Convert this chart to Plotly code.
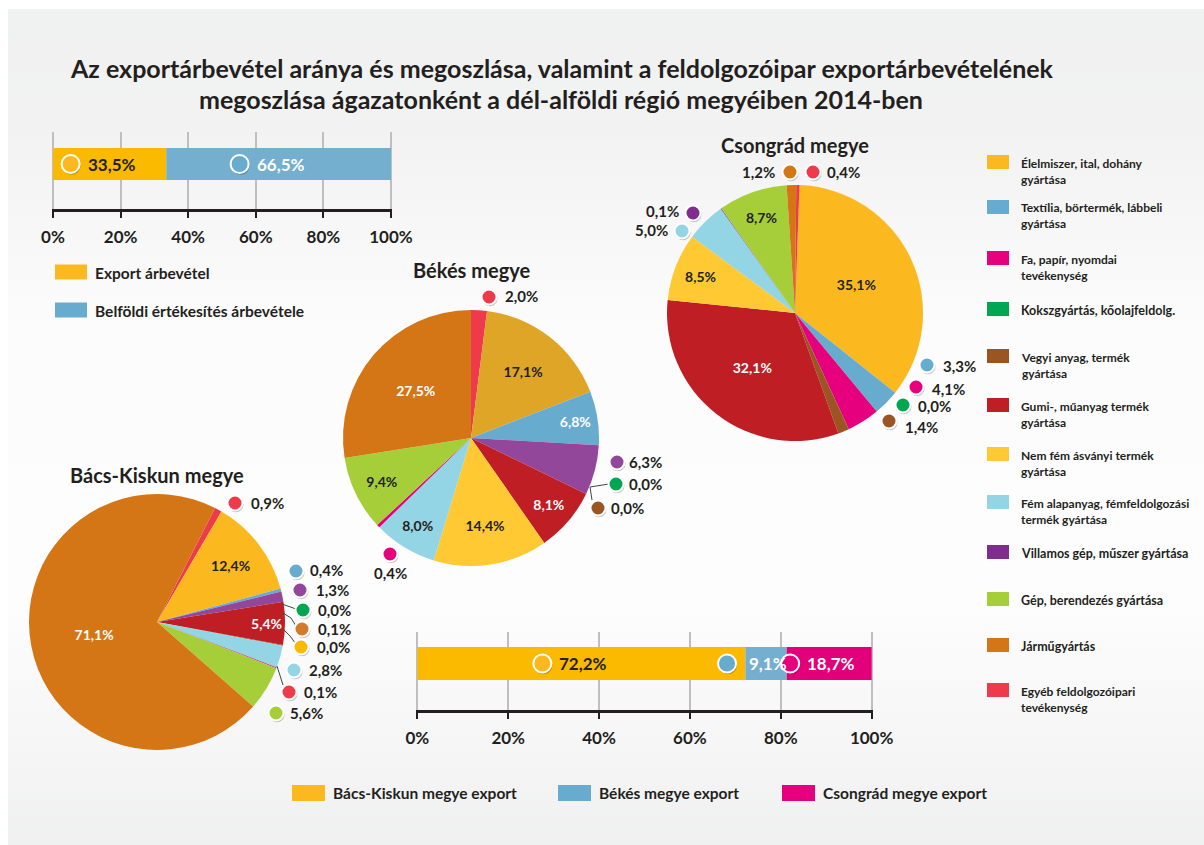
import plotly.graph_objects as go

W, H = 1204, 845
FONT = "Lato"
DARK = "#231f20"

# ---------------- data ----------------
sectors = [
    "Élelmiszer, ital, dohány gyártása",
    "Textília, börtermék, lábbeli gyártása",
    "Fa, papír, nyomdai tevékenység",
    "Kokszgyártás, kőolajfeldolg.",
    "Vegyi anyag, termék gyártása",
    "Gumi-, műanyag termék gyártása",
    "Nem fém ásványi termék gyártása",
    "Fém alapanyag, fémfeldolgozási termék gyártása",
    "Villamos gép, műszer gyártása",
    "Gép, berendezés gyártása",
    "Járműgyártás",
    "Egyéb feldolgozóipari tevékenység",
]
sector_legend_lines = [
    ["Élelmiszer, ital, dohány", "gyártása"],
    ["Textília, börtermék, lábbeli", "gyártása"],
    ["Fa, papír, nyomdai", "tevékenység"],
    ["Kokszgyártás, kőolajfeldolg."],
    ["Vegyi anyag, termék", "gyártása"],
    ["Gumi-, műanyag termék", "gyártása"],
    ["Nem fém ásványi termék", "gyártása"],
    ["Fém alapanyag, fémfeldolgozási", "termék gyártása"],
    ["Villamos gép, műszer gyártása"],
    ["Gép, berendezés gyártása"],
    ["Járműgyártás"],
    ["Egyéb feldolgozóipari", "tevékenység"],
]
bacs_kiskun = [12.4, 0.4, 0.1, 0.0, 0.1, 5.4, 0.0, 2.8, 1.3, 5.6, 71.1, 0.9]
bekes = [17.1, 6.8, 0.4, 0.0, 0.0, 8.1, 14.4, 8.0, 6.3, 9.4, 27.5, 2.0]
csongrad = [35.1, 3.3, 4.1, 0.0, 1.4, 32.1, 8.5, 5.0, 0.1, 8.7, 1.2, 0.4]

export_split_labels = ["Export árbevétel", "Belföldi értékesítés árbevétele"]
export_split_values = [33.5, 66.5]

county_export_labels = ["Bács-Kiskun megye export", "Békés megye export", "Csongrád megye export"]
county_export_values = [72.2, 9.1, 18.7]

axis_ticks = [0, 20, 40, 60, 80, 100]

title_lines = [
    "Az exportárbevétel aránya és megoszlása, valamint a feldolgozóipar exportárbevételének",
    "megoszlása ágazatonként a dél-alföldi régió megyéiben 2014-ben",
]

# ---------------- styles ----------------
sector_colors = ["#FBB91F", "#67ABCE", "#E6007E", "#00A651", "#9B5523", "#BE1E24",
                 "#FFC933", "#93D5E5", "#7E2D8E", "#A6CE39", "#D47516", "#EE3A4B"]
pie_purple = "#92479A"
split_colors = ["#FBBA00", "#74AFCF"]
split_dot_colors = ["#FBB91F", "#67ABCE"]
county_colors = ["#FBBA00", "#74AFCF", "#E2007A"]
county_dot_colors = ["#FBB91F", "#67ABCE", "#E6007E"]
white_text_sectors = {1, 5, 10}


def fmt(v):
    return f"{v:.1f}".replace(".", ",") + "%"


def px(x):
    return x / W


def py(y):
    return 1 - y / H


shapes = []
annotations = []


def add_dot(x, y, color, r=7.5, xref="paper", yref="paper", dx=0):
    shapes.append(dict(type="circle", xref=xref, yref=yref, xsizemode="pixel", ysizemode="pixel",
                       xanchor=x, yanchor=y, x0=dx - r + 1.0, x1=dx + r + 1.0, y0=-r - 1.8, y1=r - 1.8,
                       fillcolor="rgba(0,0,0,0.22)", line=dict(width=0), layer="above"))
    shapes.append(dict(type="circle", xref=xref, yref=yref, xsizemode="pixel", ysizemode="pixel",
                       xanchor=x, yanchor=y, x0=dx - r, x1=dx + r, y0=-r, y1=r,
                       fillcolor=color, line=dict(color="white", width=2), layer="above"))


def add_text(x, y, text, size=14, anchor="left", color=DARK, yanchor="middle"):
    annotations.append(dict(x=px(x), y=py(y), xref="paper", yref="paper", text=text, showarrow=False,
                            xanchor=anchor, yanchor=yanchor, align=anchor if anchor != "center" else "center",
                            font=dict(family=FONT, size=size, color=color, weight="bold")))


def add_rect(x0, y0, x1, y1, color, layer="above"):
    shapes.append(dict(type="rect", xref="paper", yref="paper", x0=px(x0), x1=px(x1),
                       y0=py(y1), y1=py(y0), fillcolor=color, line=dict(width=0), layer=layer))


def add_line(pts, color="#444", width=1):
    for (xa, ya), (xb, yb) in zip(pts[:-1], pts[1:]):
        shapes.append(dict(type="line", xref="paper", yref="paper", x0=px(xa), y0=py(ya),
                           x1=px(xb), y1=py(yb), line=dict(color=color, width=width), layer="above"))


# ---------------- background panel (vertical gradient) ----------------
stops = [(9, (240, 241, 241)), (130, (242, 242, 242)), (330, (252, 252, 252)),
         (600, (253, 253, 253)), (760, (245, 245, 245)), (845, (239, 240, 240))]


def bg_color(y):
    for (ya, ca), (yb, cb) in zip(stops[:-1], stops[1:]):
        if ya <= y <= yb:
            t = (y - ya) / (yb - ya)
            c = [round(a + (b - a) * t) for a, b in zip(ca, cb)]
            return f"rgb({c[0]},{c[1]},{c[2]})"
    return "rgb(240,241,241)"


y = 9
while y < H:
    y2 = min(y + 8, H)
    add_rect(8, y, W, y2 + 0.6, bg_color((y + y2) / 2), layer="below")
    y = y2

# ---------------- title ----------------
add_text(562, 68, title_lines[0], size=25, anchor="center")
add_text(561, 99, title_lines[1], size=25, anchor="center")

fig = go.Figure()

# ---------------- bars ----------------
cum = 0
for i, (lab, v) in enumerate(zip(export_split_labels, export_split_values)):
    fig.add_trace(go.Bar(x=[v], y=[0], base=cum, orientation="h", width=0.8, name=lab,
                         marker=dict(color=split_colors[i], line=dict(width=0)),
                         xaxis="x", yaxis="y", showlegend=False, hoverinfo="name+x"))
    mid = cum + v / 2
    annotations.append(dict(x=mid, y=0, xref="x", yref="y", text=fmt(v), showarrow=False,
                            xanchor="center", yanchor="middle", xshift=2,
                            font=dict(family=FONT, size=17, weight="bold",
                                      color=DARK if i == 0 else "white")))
    add_dot(mid, 0, split_dot_colors[i], r=9, xref="x", yref="y", dx=-39)
    cum += v

cum = 0
for i, (lab, v) in enumerate(zip(county_export_labels, county_export_values)):
    fig.add_trace(go.Bar(x=[v], y=[0], base=cum, orientation="h", width=0.8, name=lab,
                         marker=dict(color=county_colors[i], line=dict(width=0)),
                         xaxis="x2", yaxis="y2", showlegend=False, hoverinfo="name+x"))
    mid = cum + v / 2
    annotations.append(dict(x=mid, y=0, xref="x2", yref="y2", text=fmt(v), showarrow=False,
                            xanchor="center", yanchor="middle", xshift=2,
                            font=dict(family=FONT, size=17, weight="bold",
                                      color=DARK if i == 0 else "white")))
    add_dot(mid, 0, county_dot_colors[i], r=9, xref="x2", yref="y2", dx=-39)
    cum += v

axis_common = dict(range=[-0.3, 100.3], tickvals=axis_ticks, ticktext=[f"{t}%" for t in axis_ticks],
                   showgrid=True, gridcolor="#bfbfc3", gridwidth=2, zeroline=False,
                   showline=True, linecolor=DARK, linewidth=2.5, ticks="outside", ticklen=6,
                   tickwidth=2, tickcolor=DARK, ticklabelstandoff=5, automargin=False,
                   tickfont=dict(family=FONT, size=17, color=DARK, weight="bold"), fixedrange=True)
yaxis_common = dict(showgrid=False, zeroline=False, showticklabels=False, showline=False,
                    fixedrange=True, automargin=False)

# ---------------- pies ----------------
def pie_trace(values, order, cx, cy, r, inside, rotation, overrides=None, name=""):
    overrides = overrides or {}
    cols = []
    for i in order:
        c = overrides.get(i, sector_colors[i])
        if i == 8 and i not in overrides:
            c = pie_purple
        cols.append(c)
    return go.Pie(
        labels=[sectors[i] for i in order], values=[values[i] for i in order],
        sort=False, direction="clockwise", rotation=rotation, name=name,
        domain=dict(x=[px(cx - r), px(cx + r)], y=[py(cy + r), py(cy - r)]),
        marker=dict(colors=cols, line=dict(width=0)),
        text=[fmt(values[i]) for i in order], textinfo="text",
        textposition=["inside" if i in inside else "none" for i in order],
        insidetextorientation="horizontal", automargin=False,
        textfont=dict(family=FONT, size=14, weight="bold",
                      color=["white" if i in white_text_sectors else DARK for i in order]),
        showlegend=False, hoverinfo="label+text")


fig.add_trace(pie_trace(csongrad, [0, 1, 2, 3, 4, 5, 6, 7, 8, 9, 10, 11], 795, 313, 128,
                        {0, 5, 6, 9}, 2, name="Csongrád megye"))
fig.add_trace(pie_trace(bekes, [11, 0, 1, 8, 3, 4, 5, 6, 7, 2, 9, 10], 471, 438, 128,
                        {0, 1, 5, 6, 7, 9, 10}, 0, overrides={0: "#DFA526"}, name="Békés megye"))
fig.add_trace(pie_trace(bacs_kiskun, [11, 0, 1, 8, 3, 5, 4, 6, 7, 2, 9, 10], 157, 622, 128,
                        {0, 5, 10}, 27, name="Bács-Kiskun megye"))

# pie titles
add_text(795, 145, "Csongrád megye", size=20, anchor="center")
add_text(471, 270, "Békés megye", size=20, anchor="center")
add_text(157, 475, "Bács-Kiskun megye", size=20, anchor="center")

# outside labels: (sector, dot x, dot y, text x, text y, text anchor, dot colour override)
csongrad_outside = [
    (10, 790, 172, 777, 172, "right", None), (11, 813, 172, 825, 172, "left", None),
    (8, 693, 213, 681, 211, "right", None), (7, 682, 231, 670, 230, "right", None),
    (1, 927, 365, 941, 366, "left", None), (2, 916, 387, 930, 389, "left", None),
    (3, 903, 405, 916, 406, "left", None), (4, 889, 421, 903, 427, "left", None),
]
bekes_outside = [
    (11, 489, 297, 503, 296, "left", None), (8, 617, 462, 627, 462, "left", pie_purple),
    (3, 616, 484, 627, 484, "left", None), (4, 598, 508, 609, 508, "left", None),
    (2, 390, 554, 390, 573, "center", None),
]
bacs_outside = [
    (11, 235, 503, 249, 503, "left", None), (1, 296, 571, 308, 570, "left", None),
    (8, 300, 590, 314, 590, "left", pie_purple), (3, 303, 610, 316, 610, "left", None),
    (4, 302, 629, 316, 629, "left", "#D47A2A"), (6, 301, 647, 315, 647, "left", "#FBBA00"),
    (7, 294, 670, 307, 670, "left", None), (2, 289, 692, 302, 692, "left", "#EE3A4B"),
    (9, 276, 713, 288, 713, "left", None),
]

# leader lines
add_line([(590, 487), (609, 484)])
add_line([(590, 487), (592, 500)])
add_line([(282, 604), (296, 609)])
add_line([(283, 613), (291, 618), (296, 626)])
add_line([(284, 630), (290, 636), (296, 644)])
add_line([(277, 666), (283, 685)])

for values, specs in [(csongrad, csongrad_outside), (bekes, bekes_outside), (bacs_kiskun, bacs_outside)]:
    for idx, dx_, dy_, tx, ty, anc, col in specs:
        add_dot(px(dx_), py(dy_), col or sector_colors[idx], r=7.5)
        add_text(tx, ty, fmt(values[idx]), size=15, anchor=anc)

# ---------------- legends ----------------
# top-left legend
for i, (lab, yy) in enumerate(zip(export_split_labels, [272, 310])):
    add_rect(55, yy - 7.5, 87, yy + 7.5, split_dot_colors[i])
    add_text(93, yy + 1, lab, size=15.5)

# bottom legend
for i, (lab, xx) in enumerate(zip(county_export_labels, [292, 558, 782])):
    add_rect(xx, 785, xx + 33, 801, county_dot_colors[i])
    add_text(xx + 39, 793, lab, size=15.5)

# right legend (sectors)
legend_y = [162, 207, 258, 309, 356, 405, 454, 502, 552, 599, 645, 690]
for i, yy in enumerate(legend_y):
    add_rect(987, yy - 7, 1009, yy + 7, sector_colors[i])
    lines = sector_legend_lines[i]
    if len(lines) == 1:
        add_text(1019, yy + 1, lines[0], size=12.5)
    else:
        add_text(1019, yy - 8.5, "<br>".join(lines), size=12, yanchor="top")

fig.update_layout(
    width=W, height=H, margin=dict(l=0, r=0, t=0, b=0, pad=0, autoexpand=False),
    paper_bgcolor="white", plot_bgcolor="rgba(0,0,0,0)",
    barmode="overlay", showlegend=False,
    xaxis=dict(domain=[px(52), px(392)], anchor="y", **axis_common),
    yaxis=dict(domain=[py(209), py(132)], anchor="x", range=[-1.125, 0.8], **yaxis_common),
    xaxis2=dict(domain=[px(416), px(873)], anchor="y2", **axis_common),
    yaxis2=dict(domain=[py(710), py(632)], anchor="x2", range=[-1.127, 0.764], **yaxis_common),
    shapes=shapes, annotations=annotations,
    font=dict(family=FONT, color=DARK),
)

fig.write_html(
    "out.html",
    config={"displayModeBar": False},
    post_script="document.body.style.margin='0';document.body.style.overflow='hidden';",
)
